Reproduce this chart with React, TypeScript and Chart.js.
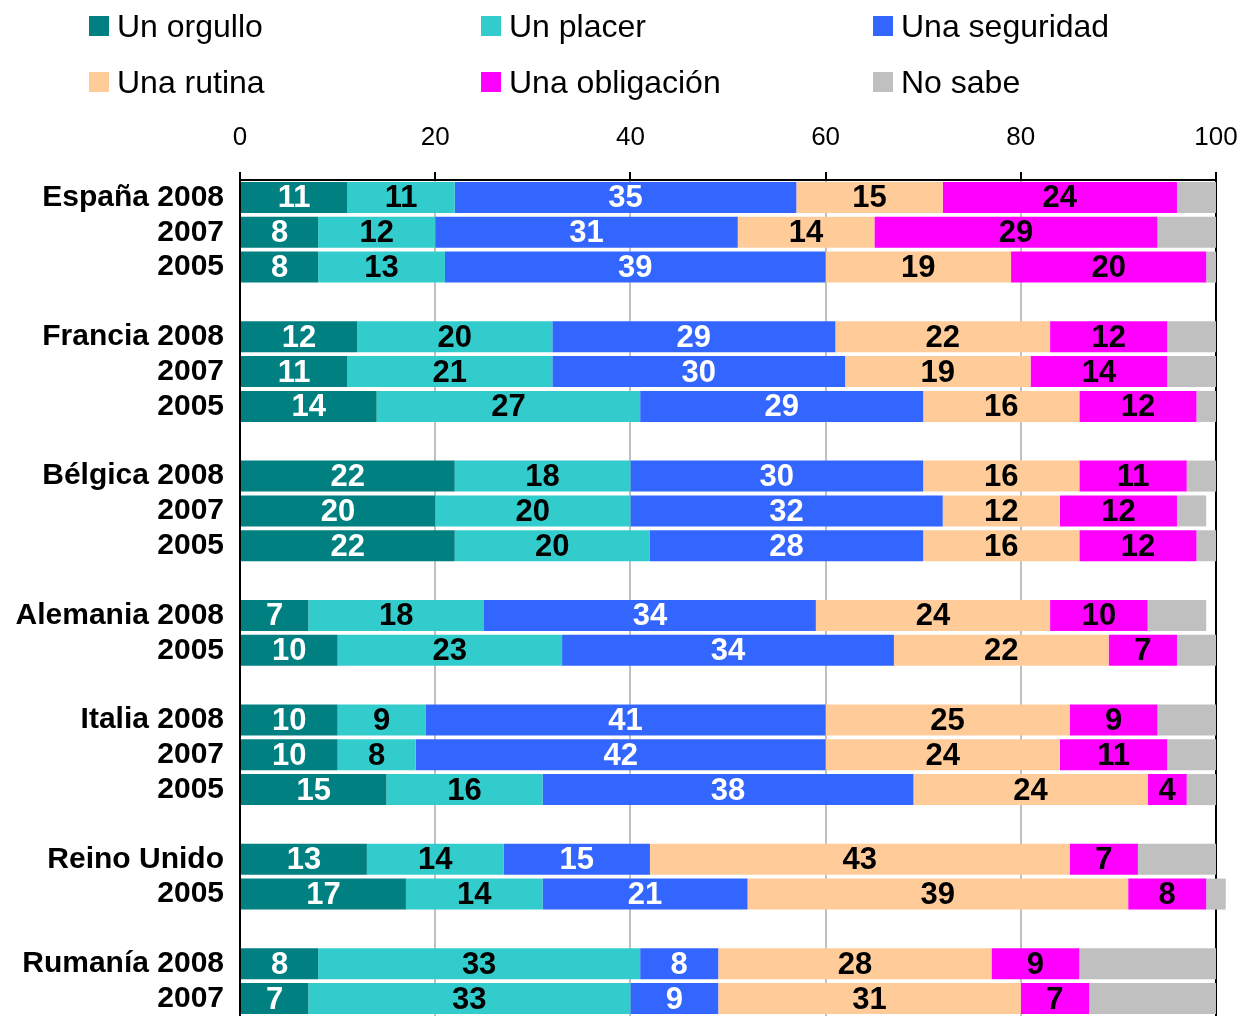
import React, { useEffect, useRef } from "react";
import { Chart, registerables } from "chart.js";

Chart.register(...registerables);

const categories = [
  "España 2008", "2007", "2005", "",
  "Francia 2008", "2007", "2005", "",
  "Bélgica 2008", "2007", "2005", "",
  "Alemania 2008", "2005", "",
  "Italia 2008", "2007", "2005", "",
  "Reino Unido", "2005", "",
  "Rumanía 2008", "2007",
];

const seriesNames = ["Un orgullo", "Un placer", "Una seguridad", "Una rutina", "Una obligación", "No sabe"];

const orgullo = [11, 8, 8, null, 12, 11, 14, null, 22, 20, 22, null, 7, 10, null, 10, 10, 15, null, 13, 17, null, 8, 7];
const placer = [11, 12, 13, null, 20, 21, 27, null, 18, 20, 20, null, 18, 23, null, 9, 8, 16, null, 14, 14, null, 33, 33];
const seguridad = [35, 31, 39, null, 29, 30, 29, null, 30, 32, 28, null, 34, 34, null, 41, 42, 38, null, 15, 21, null, 8, 9];
const rutina = [15, 14, 19, null, 22, 19, 16, null, 16, 12, 16, null, 24, 22, null, 25, 24, 24, null, 43, 39, null, 28, 31];
const obligacion = [24, 29, 20, null, 12, 14, 12, null, 11, 12, 12, null, 10, 7, null, 9, 11, 4, null, 7, 8, null, 9, 7];
const noSabe = [4, 6, 1, null, 5, 5, 2, null, 3, 3, 2, null, 6, 4, null, 6, 5, 3, null, 8, 2, null, 14, 13];

const xTickValues = [0, 20, 40, 60, 80, 100];

const seriesValues = [orgullo, placer, seguridad, rutina, obligacion, noSabe];

// styles
const COLORS = ["#008080", "#33CCCC", "#3366FF", "#FFCC99", "#FF00FF", "#C0C0C0"];
const LABEL_COLORS: (string | null)[] = ["#ffffff", "#000000", "#ffffff", "#000000", "#000000", null];
const FONT = "'Liberation Sans', Arial, Helvetica, sans-serif";

const barLabels = {
  id: "barLabels",
  afterDatasetsDraw(chart: any) {
    const ctx = chart.ctx;
    ctx.save();
    ctx.font = `bold 31px ${FONT}`;
    ctx.textAlign = "center";
    ctx.textBaseline = "middle";
    chart.data.datasets.forEach((ds: any, i: number) => {
      const color = LABEL_COLORS[i];
      if (!color) return;
      const meta = chart.getDatasetMeta(i);
      meta.data.forEach((el: any, j: number) => {
        const v = ds.data[j];
        if (v == null) return;
        const p = el.getProps(["x", "base", "y"], true);
        ctx.fillStyle = color;
        ctx.fillText(String(v), (p.x + p.base) / 2, p.y + 1.5);
      });
    });
    ctx.restore();
  },
};

export default function App() {
  const ref = useRef<HTMLCanvasElement | null>(null);

  useEffect(() => {
    document.body.style.margin = "0";
    document.body.style.overflow = "hidden";
    if (!ref.current) return;
    const chart = new Chart(ref.current, {
      type: "bar",
      data: {
        labels: categories,
        datasets: seriesNames.map((name, i) => ({
          label: name,
          data: seriesValues[i],
          backgroundColor: COLORS[i],
          borderWidth: 0,
          barPercentage: 0.89,
          categoryPercentage: 1.0,
          clip: false as any,
        })),
      },
      options: {
        indexAxis: "y",
        responsive: false,
        animation: false,
        layout: { padding: { top: 120, right: 29, left: 0, bottom: 0 } },
        plugins: {
          legend: { display: false },
          tooltip: { enabled: false },
        },
        scales: {
          x: {
            type: "linear",
            position: "top",
            stacked: true,
            min: 0,
            max: 100,
            afterBuildTicks: (scale: any) => {
              scale.ticks = xTickValues.map((v) => ({ value: v }));
            },
            ticks: {
              stepSize: 20,
              padding: 19,
              color: "#000",
              font: { family: FONT, size: 26 },
            },
            grid: {
              color: (c: any) => (c.tick && c.tick.value === 100 ? "#000000" : "#c0c0c0"),
              lineWidth: 2,
              tickLength: 8,
              tickColor: "#000",
              tickWidth: 2,
            },
            border: { display: true, color: "#000", width: 2 },
            afterFit: (scale: any) => {
              scale.height = 60;
              scale.paddingLeft = 0;
              scale.paddingRight = 0;
            },
          },
          y: {
            type: "category",
            stacked: true,
            grid: { display: false, drawTicks: false },
            border: { display: true, color: "#000", width: 2 },
            ticks: {
              autoSkip: false,
              padding: 16,
              color: "#000",
              font: { family: FONT, size: 30, weight: "bold" },
            },
            afterFit: (scale: any) => {
              scale.width = 240;
              scale.paddingTop = 0;
              scale.paddingBottom = 0;
            },
          },
        },
      },
      plugins: [barLabels],
    } as any);
    return () => chart.destroy();
  }, []);

  const legendCols = [89, 481, 873];
  const legendRows = [26, 82];

  return (
    <div style={{ position: "relative", width: 1245, height: 1016, background: "#fff", fontFamily: FONT }}>
      <canvas ref={ref} width={1245} height={1016} style={{ display: "block" }} />
      {seriesNames.map((name, i) => {
        const left = legendCols[i % 3];
        const cy = legendRows[Math.floor(i / 3)];
        return (
          <div
            key={name}
            style={{
              position: "absolute",
              left,
              top: cy - 16,
              height: 32,
              display: "flex",
              alignItems: "center",
              whiteSpace: "nowrap",
            }}
          >
            <span style={{ display: "inline-block", width: 20, height: 20, background: COLORS[i], marginRight: 8 }} />
            <span style={{ fontSize: 32, lineHeight: "32px", color: "#000" }}>{name}</span>
          </div>
        );
      })}
    </div>
  );
}
